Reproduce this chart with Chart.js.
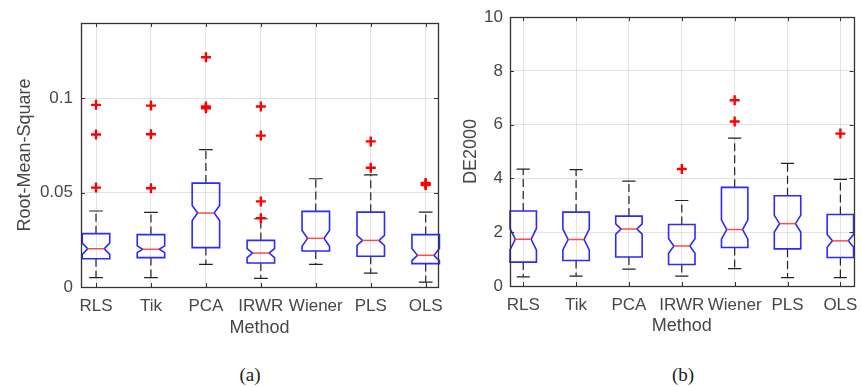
<!DOCTYPE html>
<html>
<head>
<meta charset="utf-8">
<script src="https://cdn.jsdelivr.net/npm/chart.js@4.4.1/dist/chart.umd.min.js"></script>
<style>
    html, body { margin: 0; padding: 0; background: #fff; }
    #wrap { position: relative; width: 861px; height: 387px; overflow: hidden; }
    #wrap canvas { position: absolute; left: 0; top: 0; }
    .panel-label {
        position: absolute; top: 364px;
        font: 19px "Liberation Serif", "DejaVu Serif", serif; color: #222;
        transform: translateX(-50%);
    }
</style>
</head>
<body>
<div id="wrap">
    <canvas id="chartA" width="861" height="350"></canvas>
    <canvas id="chartB" width="861" height="350"></canvas>
    <div class="panel-label" style="left:250px">(a)</div>
    <div class="panel-label" style="left:683px">(b)</div>
</div>
<script>
// Kategóriák
const methods = ['RLS', 'Tik', 'PCA', 'IRWR', 'Wiener', 'PLS', 'OLS'];

// (a) Root-Mean-Square
const rmsLowWhisker  = [0.0050, 0.0050, 0.0120, 0.0046, 0.0120, 0.0074, 0.0026];
const rmsQ1          = [0.0150, 0.0156, 0.0209, 0.0127, 0.0191, 0.0163, 0.0124];
const rmsMedian      = [0.0203, 0.0200, 0.0392, 0.0180, 0.0258, 0.0247, 0.0168];
const rmsQ3          = [0.0283, 0.0278, 0.0551, 0.0247, 0.0401, 0.0397, 0.0278];
const rmsHighWhisker = [0.0403, 0.0396, 0.0729, 0.0362, 0.0574, 0.0595, 0.0397];
const rmsNotchLow    = [0.0173, 0.0182, 0.0352, 0.0156, 0.0216, 0.0220, 0.0140];
const rmsNotchHigh   = [0.0233, 0.0218, 0.0432, 0.0204, 0.0300, 0.0274, 0.0204];
const rmsOutliers    = [
    [0.0527, 0.0809, 0.0966],
    [0.0524, 0.0810, 0.0962],
    [0.0948, 0.0957, 0.1218],
    [0.0365, 0.0454, 0.0803, 0.0957],
    [],
    [0.0632, 0.0772],
    [0.0540, 0.0546, 0.0552]
];
const rmsTicks = [0, 0.05, 0.1];

// (b) DE2000
const deLowWhisker  = [0.34, 0.37, 0.63, 0.37, 0.65, 0.31, 0.31];
const deQ1          = [0.89, 0.95, 1.08, 0.80, 1.43, 1.38, 1.06];
const deMedian      = [1.74, 1.73, 2.12, 1.49, 2.10, 2.32, 1.68];
const deQ3          = [2.79, 2.75, 2.60, 2.29, 3.67, 3.36, 2.66];
const deHighWhisker = [4.35, 4.33, 3.90, 3.18, 5.50, 4.56, 3.97];
const deNotchLow    = [1.34, 1.34, 1.93, 1.22, 1.74, 2.01, 1.44];
const deNotchHigh   = [2.14, 2.12, 2.31, 1.76, 2.46, 2.63, 1.92];
const deOutliers    = [[], [], [], [4.35], [6.12, 6.91], [], [5.67]];
const deTicks = [0, 2, 4, 6, 8, 10];

// Doboz méretek kategória egységben
const BOX_HALF = 0.25;
const NOTCH_HALF = 0.15;
const CAP_HALF = 0.125;

const TEXT_COLOR = '#474747';
const FONT = '"Liberation Sans", Arial, sans-serif';

// Notched boxplot rajzolása a skálákon keresztül
const notchedBoxPlugin = {
    id: 'notchedBoxes',
    beforeDatasetsDraw(chart, args, opts) {
        const st = opts.stats;
        if (!st) return;
        const xs = chart.scales.x, ys = chart.scales.y, ctx = chart.ctx;
        const px = v => xs.getPixelForValue(v);
        const py = v => ys.getPixelForValue(v);
        ctx.save();
        st.median.forEach((med, i) => {
            const c = i + 1;
            const xc = px(c);
            // whiskerek
            ctx.lineWidth = 1.2;
            ctx.strokeStyle = '#222';
            ctx.setLineDash([8, 4]);
            ctx.beginPath();
            ctx.moveTo(xc, py(st.q3[i])); ctx.lineTo(xc, py(st.hi[i]));
            ctx.moveTo(xc, py(st.q1[i])); ctx.lineTo(xc, py(st.lo[i]));
            ctx.stroke();
            ctx.setLineDash([]);
            ctx.beginPath();
            ctx.moveTo(px(c - CAP_HALF), py(st.hi[i])); ctx.lineTo(px(c + CAP_HALF), py(st.hi[i]));
            ctx.moveTo(px(c - CAP_HALF), py(st.lo[i])); ctx.lineTo(px(c + CAP_HALF), py(st.lo[i]));
            ctx.stroke();
            // doboz
            const xl = px(c - BOX_HALF), xr = px(c + BOX_HALF);
            const xil = px(c - NOTCH_HALF), xir = px(c + NOTCH_HALF);
            ctx.lineWidth = 1.6;
            ctx.strokeStyle = '#2a2aff';
            ctx.beginPath();
            ctx.moveTo(xl, py(st.q1[i]));
            ctx.lineTo(xl, py(st.nlo[i]));
            ctx.lineTo(xil, py(med));
            ctx.lineTo(xl, py(st.nhi[i]));
            ctx.lineTo(xl, py(st.q3[i]));
            ctx.lineTo(xr, py(st.q3[i]));
            ctx.lineTo(xr, py(st.nhi[i]));
            ctx.lineTo(xir, py(med));
            ctx.lineTo(xr, py(st.nlo[i]));
            ctx.lineTo(xr, py(st.q1[i]));
            ctx.closePath();
            ctx.stroke();
            // medián
            ctx.lineWidth = 1.5;
            ctx.strokeStyle = '#ff4a4a';
            ctx.beginPath();
            ctx.moveTo(xil, py(med)); ctx.lineTo(xir, py(med));
            ctx.stroke();
        });
        ctx.restore();
    }
};

// Keret + befelé álló tick jelek (MATLAB stílus)
const framePlugin = {
    id: 'axesFrame',
    afterDraw(chart) {
        const {ctx, chartArea: a, scales} = chart;
        ctx.save();
        ctx.strokeStyle = '#333';
        ctx.lineWidth = 1.3;
        ctx.strokeRect(Math.round(a.left) + 0.5, Math.round(a.top) + 0.5,
                       Math.round(a.right - a.left), Math.round(a.bottom - a.top));
        ctx.lineWidth = 1;
        ctx.beginPath();
        scales.x.ticks.forEach(t => {
            const x = Math.round(scales.x.getPixelForValue(t.value)) + 0.5;
            ctx.moveTo(x, a.bottom); ctx.lineTo(x, a.bottom - 4);
            ctx.moveTo(x, a.top); ctx.lineTo(x, a.top + 4);
        });
        scales.y.ticks.forEach(t => {
            const y = Math.round(scales.y.getPixelForValue(t.value)) + 0.5;
            ctx.moveTo(a.left, y); ctx.lineTo(a.left + 4, y);
            ctx.moveTo(a.right, y); ctx.lineTo(a.right - 4, y);
        });
        ctx.stroke();
        ctx.restore();
    }
};

function makeChart(canvasId, p) {
    const outlierPoints = [];
    p.outliers.forEach((list, i) => list.forEach(v => outlierPoints.push({x: i + 1, y: v})));

    return new Chart(document.getElementById(canvasId), {
        type: 'scatter',
        data: {
            datasets: [{
                data: outlierPoints,
                pointStyle: 'cross',
                pointRadius: 5,
                pointHoverRadius: 5,
                borderWidth: 2.4,
                borderColor: '#ff0000',
                backgroundColor: '#ff0000'
            }]
        },
        options: {
            responsive: false,
            animation: false,
            events: [],
            layout: { padding: p.padding },
            plugins: {
                legend: { display: false },
                tooltip: { enabled: false },
                notchedBoxes: { stats: p.stats }
            },
            scales: {
                x: {
                    type: 'linear',
                    min: p.xMin,
                    max: p.xMax,
                    afterBuildTicks: s => { s.ticks = methods.map((m, i) => ({value: i + 1})); },
                    afterFit: s => { s.height = p.xHeight; s.paddingLeft = 0; s.paddingRight = 0; },
                    ticks: {
                        callback: v => methods[v - 1],
                        color: TEXT_COLOR,
                        font: { family: FONT, size: 17 },
                        padding: 9,
                        maxRotation: 0,
                        autoSkip: false
                    },
                    grid: { color: 'rgba(38,38,38,0.13)', drawTicks: false },
                    border: { display: false },
                    title: {
                        display: true,
                        text: 'Method',
                        color: TEXT_COLOR,
                        font: { family: FONT, size: 18 },
                        padding: { top: 0, bottom: p.xTitlePad }
                    }
                },
                y: {
                    min: 0,
                    max: p.yMax,
                    afterBuildTicks: s => { s.ticks = p.yTicks.map(v => ({value: v})); },
                    afterFit: s => { s.width = p.yWidth; },
                    ticks: {
                        callback: v => String(v),
                        color: TEXT_COLOR,
                        font: { family: FONT, size: 17 },
                        padding: p.yTickPad
                    },
                    grid: { color: 'rgba(38,38,38,0.13)', drawTicks: false },
                    border: { display: false },
                    title: {
                        display: true,
                        text: p.yTitle,
                        color: TEXT_COLOR,
                        font: { family: FONT, size: 18 },
                        padding: { top: p.yTitlePad, bottom: 0 }
                    }
                }
            }
        },
        plugins: [notchedBoxPlugin, framePlugin]
    });
}

makeChart('chartA', {
    outliers: rmsOutliers,
    stats: { lo: rmsLowWhisker, q1: rmsQ1, median: rmsMedian, q3: rmsQ3, hi: rmsHighWhisker,
             nlo: rmsNotchLow, nhi: rmsNotchHigh },
    padding: { left: 0, top: 23, right: 423, bottom: 0 },
    xMin: 0.727, xMax: 7.224,
    yMax: 0.14, yTicks: rmsTicks,
    yTitle: 'Root-Mean-Square',
    xHeight: 63, xTitlePad: 11,
    yWidth: 81, yTickPad: 8, yTitlePad: 14
});

makeChart('chartB', {
    outliers: deOutliers,
    stats: { lo: deLowWhisker, q1: deQ1, median: deMedian, q3: deQ3, hi: deHighWhisker,
             nlo: deNotchLow, nhi: deNotchHigh },
    padding: { left: 430, top: 16, right: 3, bottom: 0 },
    xMin: 0.75, xMax: 7.25,
    yMax: 10, yTicks: deTicks,
    yTitle: 'DE2000',
    xHeight: 64, xTitlePad: 13,
    yWidth: 80, yTickPad: 7, yTitlePad: 30
});
</script>
</body>
</html>
